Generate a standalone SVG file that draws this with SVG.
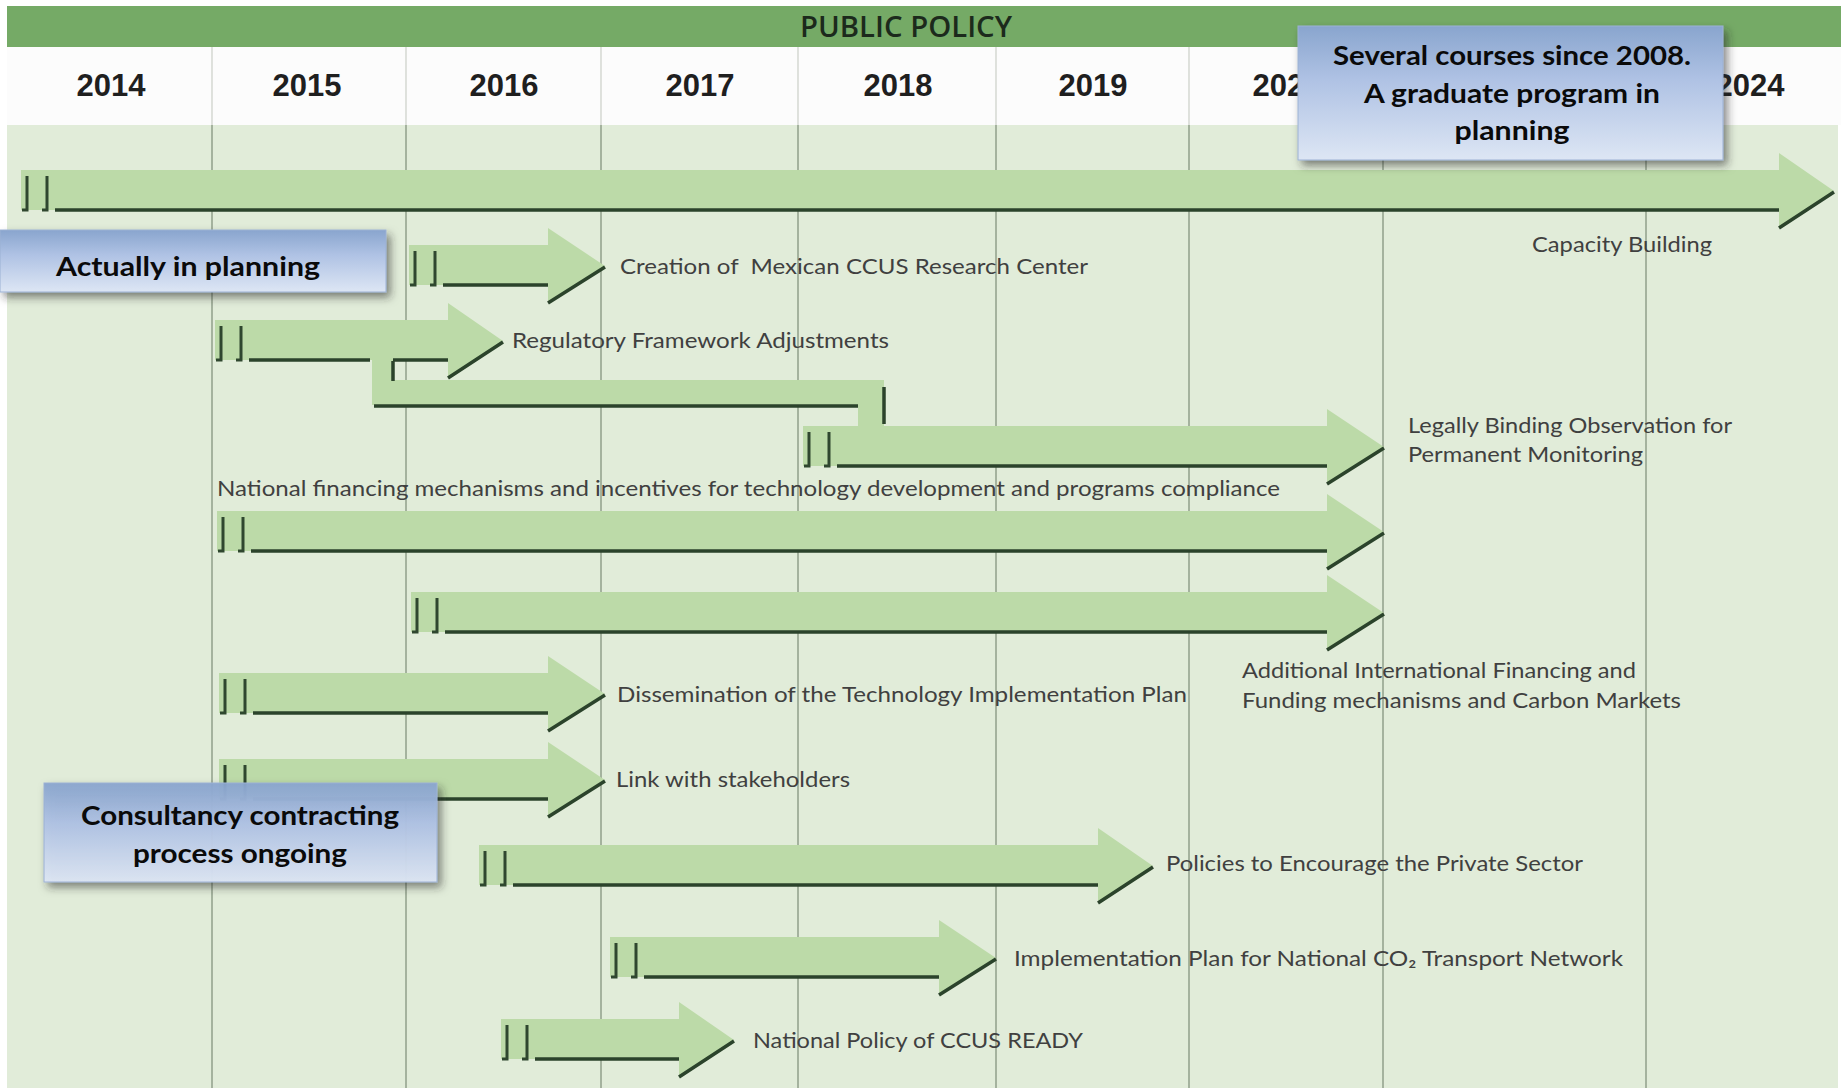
<svg xmlns="http://www.w3.org/2000/svg" width="1841" height="1088" viewBox="0 0 1841 1088">
<defs>
<linearGradient id="boxg" x1="0" y1="0" x2="0" y2="1">
<stop offset="0" stop-color="#89a5ce"/>
<stop offset="0.4" stop-color="#afc2e4"/>
<stop offset="1" stop-color="#dde6f4"/>
</linearGradient>
<filter id="shadow" x="-10%" y="-20%" width="125%" height="150%">
<feDropShadow dx="4" dy="5" stdDeviation="4" flood-color="#2a2a2a" flood-opacity="0.55"/>
</filter>
</defs>
<style>
.bar{fill:#bcdaa8}
.sh{fill:none;stroke:#2b432b;stroke-width:3.5}
.jj{fill:none;stroke:#2f472f;stroke-width:3}
.grid{stroke:#84947f;stroke-width:1.3}
.gridw{stroke:#cfd3cc;stroke-width:1.3}
.year{font-family:"Liberation Sans",Arial,sans-serif;font-weight:bold;font-size:31px;fill:#1f1f1f;text-anchor:middle}
.lbl{font-family:Lato,"Liberation Sans",sans-serif;font-size:22px;fill:#404040}
.box{fill:url(#boxg);stroke:#9cb1d4;stroke-width:1;filter:url(#shadow)}
.bt{font-family:Lato,"Liberation Sans",sans-serif;font-weight:bold;font-size:27px;fill:#0a0a0a;text-anchor:middle}
</style>
<rect x="0" y="0" width="1841" height="1088" fill="#ffffff"/>
<rect x="7" y="125" width="1831" height="963" fill="#e1ecd9"/>
<rect x="7" y="47" width="1834" height="78" fill="#fcfcfc"/>
<rect x="7" y="6" width="1834" height="41" fill="#75aa66"/>
<text x="906" y="37" font-family="'Open Sans','Liberation Sans',sans-serif" font-weight="600" font-size="29" fill="#1c2a1c" text-anchor="middle" textLength="212" lengthAdjust="spacingAndGlyphs">PUBLIC POLICY</text>
<g id="grid">
<path class="gridw" d="M212 47V125M406 47V125M601 47V125M798 47V125M996 47V125M1189 47V125M1383 47V125M1646 47V125"/>
<path class="grid" d="M212 125V1088M406 125V1088M601 125V1088M798 125V1088M996 125V1088M1189 125V1088M1383 125V1088M1646 125V1088"/>
</g>
<g id="years">
<text class="year" x="111" y="96">2014</text>
<text class="year" x="307" y="96">2015</text>
<text class="year" x="504" y="96">2016</text>
<text class="year" x="700" y="96">2017</text>
<text class="year" x="898" y="96">2018</text>
<text class="year" x="1093" y="96">2019</text>
<text class="year" x="1287" y="96">2020</text>
<text class="year" x="1750" y="96">2024</text>
</g>
<g id="connectors">
<path class="bar" d="M372 358H393V380H884V428H858V405H372Z"/>
</g>
<g id="capacity-building">
<path class="bar" d="M21 170H1779V153L1834 191L1779 228V210H21Z"/>
<path class="sh" d="M55 210H1779M1779 228L1834 192"/>
<path class="jj" d="M27 176V210H22M47 176V210H42"/>
<text class="lbl" x="1532" y="252" textLength="180" lengthAdjust="spacingAndGlyphs">Capacity Building</text>
</g>
<g id="research-center">
<path class="bar" d="M409 245H548V228L605 266L548 303V285H409Z"/>
<path class="sh" d="M443 285H548M548 303L605 267"/>
<path class="jj" d="M415 251V285H410M435 251V285H430"/>
<text class="lbl" x="620" y="274" xml:space="preserve" style="white-space:pre" textLength="468" lengthAdjust="spacingAndGlyphs">Creation of  Mexican CCUS Research Center</text>
</g>
<g id="regulatory">
<path class="bar" d="M215 320H448V303L503 341L448 378V360H215Z"/>
<path class="sh" d="M249 360H370M393 360H448M448 378L503 342"/>
<path class="jj" d="M221 326V360H216M241 326V360H236"/>
<text class="lbl" x="512" y="348" textLength="377" lengthAdjust="spacingAndGlyphs">Regulatory Framework Adjustments</text>
</g>
<g id="connector-lines">
<path class="bar" d="M372 356H393V380H372Z"/>
<path class="sh" d="M374 406H858M884 387V424M393 361V381"/>
</g>
<g id="legally-binding">
<path class="bar" d="M803 426H1327V409L1384 447L1327 484V466H803Z"/>
<path class="sh" d="M837 466H1327M1327 484L1384 448"/>
<path class="jj" d="M809 432V466H804M829 432V466H824"/>
<text class="lbl" x="1408" y="433" textLength="324" lengthAdjust="spacingAndGlyphs">Legally Binding Observation for</text>
<text class="lbl" x="1408" y="462" textLength="235" lengthAdjust="spacingAndGlyphs">Permanent Monitoring</text>
</g>
<g id="national-financing">
<text class="lbl" x="217" y="496" textLength="1063" lengthAdjust="spacingAndGlyphs">National financing mechanisms and incentives for technology development and programs compliance</text>
<path class="bar" d="M217 511H1327V494L1384 532L1327 569V551H217Z"/>
<path class="sh" d="M251 551H1327M1327 569L1384 533"/>
<path class="jj" d="M223 517V551H218M243 517V551H238"/>
</g>
<g id="international-financing">
<path class="bar" d="M411 592H1327V575L1384 613L1327 650V632H411Z"/>
<path class="sh" d="M445 632H1327M1327 650L1384 614"/>
<path class="jj" d="M417 598V632H412M437 598V632H432"/>
<text class="lbl" x="1242" y="678" textLength="394" lengthAdjust="spacingAndGlyphs">Additional International Financing and</text>
<text class="lbl" x="1242" y="708" textLength="439" lengthAdjust="spacingAndGlyphs">Funding mechanisms and Carbon Markets</text>
</g>
<g id="dissemination">
<path class="bar" d="M219 673H548V656L605 694L548 731V713H219Z"/>
<path class="sh" d="M253 713H548M548 731L605 695"/>
<path class="jj" d="M225 679V713H220M245 679V713H240"/>
<text class="lbl" x="617" y="702" textLength="570" lengthAdjust="spacingAndGlyphs">Dissemination of the Technology Implementation Plan</text>
</g>
<g id="stakeholders">
<path class="bar" d="M219 759H548V742L605 780L548 817V799H219Z"/>
<path class="sh" d="M253 799H548M548 817L605 781"/>
<path class="jj" d="M225 765V799H220M245 765V799H240"/>
<text class="lbl" x="616" y="787" textLength="234" lengthAdjust="spacingAndGlyphs">Link with stakeholders</text>
</g>
<g id="private-sector">
<path class="bar" d="M479 845H1098V828L1153 866L1098 903V885H479Z"/>
<path class="sh" d="M513 885H1098M1098 903L1153 867"/>
<path class="jj" d="M485 851V885H480M505 851V885H500"/>
<text class="lbl" x="1166" y="871" textLength="417" lengthAdjust="spacingAndGlyphs">Policies to Encourage the Private Sector</text>
</g>
<g id="co2-network">
<path class="bar" d="M610 937H939V920L996 958L939 995V977H610Z"/>
<path class="sh" d="M644 977H939M939 995L996 959"/>
<path class="jj" d="M616 943V977H611M636 943V977H631"/>
<text class="lbl" x="1014" y="966" textLength="609" lengthAdjust="spacingAndGlyphs">Implementation Plan for National CO₂ Transport Network</text>
</g>
<g id="ccus-ready">
<path class="bar" d="M501 1019H679V1002L734 1040L679 1077V1059H501Z"/>
<path class="sh" d="M535 1059H679M679 1077L734 1041"/>
<path class="jj" d="M507 1025V1059H502M527 1025V1059H522"/>
<text class="lbl" x="753" y="1048" textLength="330" lengthAdjust="spacingAndGlyphs">National Policy of CCUS READY</text>
</g>
<g id="note-planning">
<rect class="box" x="0" y="230" width="386" height="62"/>
<text class="bt" x="188" y="276" textLength="264" lengthAdjust="spacingAndGlyphs">Actually in planning</text>
</g>
<g id="note-courses">
<rect class="box" x="1298" y="26" width="425" height="134"/>
<text class="bt" x="1512" y="65" textLength="358" lengthAdjust="spacingAndGlyphs">Several courses since 2008.</text>
<text class="bt" x="1512" y="103" textLength="296" lengthAdjust="spacingAndGlyphs">A graduate program in</text>
<text class="bt" x="1512" y="140" textLength="115" lengthAdjust="spacingAndGlyphs">planning</text>
</g>
<g id="note-consultancy">
<rect class="box" x="44" y="783" width="393" height="99" fill-opacity="0.95"/>
<text class="bt" x="240" y="825" textLength="318" lengthAdjust="spacingAndGlyphs">Consultancy contracting</text>
<text class="bt" x="240" y="863" textLength="214" lengthAdjust="spacingAndGlyphs">process ongoing</text>
</g>
</svg>
